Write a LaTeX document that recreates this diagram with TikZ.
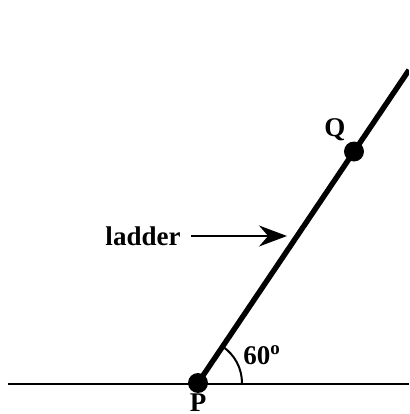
\documentclass[tikz,border=0pt]{standalone}
\usepackage{fontspec}
\setmainfont{Liberation Serif}
\usetikzlibrary{arrows.meta,positioning}

\begin{document}
\begin{tikzpicture}[x=0.5pt,y=0.5pt,
  lbl/.style={font=\fontsize{13.5}{16}\selectfont\bfseries,inner sep=0pt},
  dot/.style={circle,fill=black,inner sep=0pt,minimum size=10pt}]
  \useasboundingbox (0,0) rectangle (409,414);
  \clip (0,0) rectangle (409,414);
  %% Ground
  \coordinate (gl) at (8,30);
  \coordinate (gr) at (409,30);
  \draw[line width=1pt] (gl) -- (gr);
  %% Ladder, leaning at about 56 deg
  \node[dot] (P) at (198,31) {};
  \coordinate (top) at (409,344);
  \draw[line width=2.7pt] (P.center) -- (top);
  \node[dot] (Q) at (354,262.5) {};
  %% Angle mark
  \draw[line width=1pt] ([shift={(0:44)}]P.center)
       arc[start angle=0,end angle=56,radius=44];
  %% Labels
  \node[lbl] (Qlbl) at (335,284) {Q};
  \node[lbl] (Plbl) at (198,11.5) {P};
  \node[lbl] (anglbl) at (262,59) {60\textsuperscript{o}};
  \node[lbl] (ladderlbl) at (143,178) {ladder};
  \coordinate (tip) at (287,178);
  \draw[line width=1pt,-{Stealth[length=14pt,width=10.5pt]}]
       ([xshift=5pt]ladderlbl.east) -- (tip);
\end{tikzpicture}
\end{document}
